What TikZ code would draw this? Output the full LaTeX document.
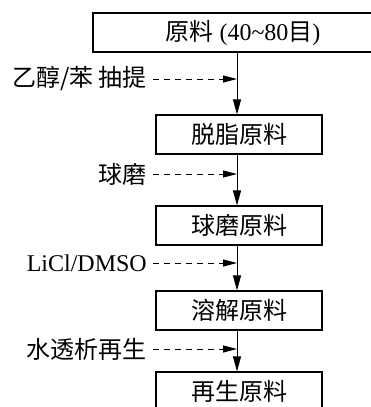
\documentclass[tikz,border=0pt]{standalone}
\usepackage{fontspec}
\setmainfont{Liberation Serif}
\newfontfamily\cjk{Noto Sans CJK SC}[FakeStretch=1.0]
\usetikzlibrary{arrows.meta}
\begin{document}
\begin{tikzpicture}[x=1pt,y=-1pt,
  box/.style={draw, line width=1.1pt, minimum height=39pt, inner sep=0pt, font=\fontsize{24}{28}\selectfont},
  lab/.style={anchor=east, inner sep=0pt, font=\fontsize{24}{28}\selectfont},
  flow/.style={line width=1pt, -{Triangle[length=15pt,width=8pt]}},
  feed/.style={line width=1pt, dash pattern=on 6pt off 5pt, -{Triangle[length=14pt,width=7pt]}}]
\useasboundingbox (0,0) rectangle (371,407);
\clip (0,0) rectangle (371,407);
\coordinate (spine) at (237,0);
\node[box, minimum width=300pt] (b1) at (243,32.5) {{\cjk 原料} (40\textasciitilde 80{\cjk 目})};
\node[box, minimum width=166pt] (b2) at (239,134.5) {\cjk 脱脂原料};
\node[box, minimum width=166pt] (b3) at (239,225.5) {\cjk 球磨原料};
\node[box, minimum width=166pt] (b4) at (239,310.5) {\cjk 溶解原料};
\node[box, minimum width=166pt] (b5) at (239,391.5) {\cjk 再生原料};
\draw[flow] (b1.south -| spine) -- (b2.north -| spine);
\draw[flow] (b2.south -| spine) -- (b3.north -| spine);
\draw[flow] (b3.south -| spine) -- (b4.north -| spine);
\draw[flow] (b4.south -| spine) -- (b5.north -| spine);
\node[lab] (l1) at (147,79) {\cjk 乙醇/苯 抽提};
\node[lab] (l2) at (147,174) {\cjk 球磨};
\node[lab] (l3) at (147,263) {LiCl/DMSO};
\node[lab] (l4) at (147,349) {\cjk 水透析再生};
\draw[feed] ([xshift=6pt]l1.east) -- (l1.east -| spine);
\draw[feed] ([xshift=6pt]l2.east) -- (l2.east -| spine);
\draw[feed] ([xshift=6pt]l3.east) -- (l3.east -| spine);
\draw[feed] ([xshift=6pt]l4.east) -- (l4.east -| spine);
\end{tikzpicture}
\end{document}
